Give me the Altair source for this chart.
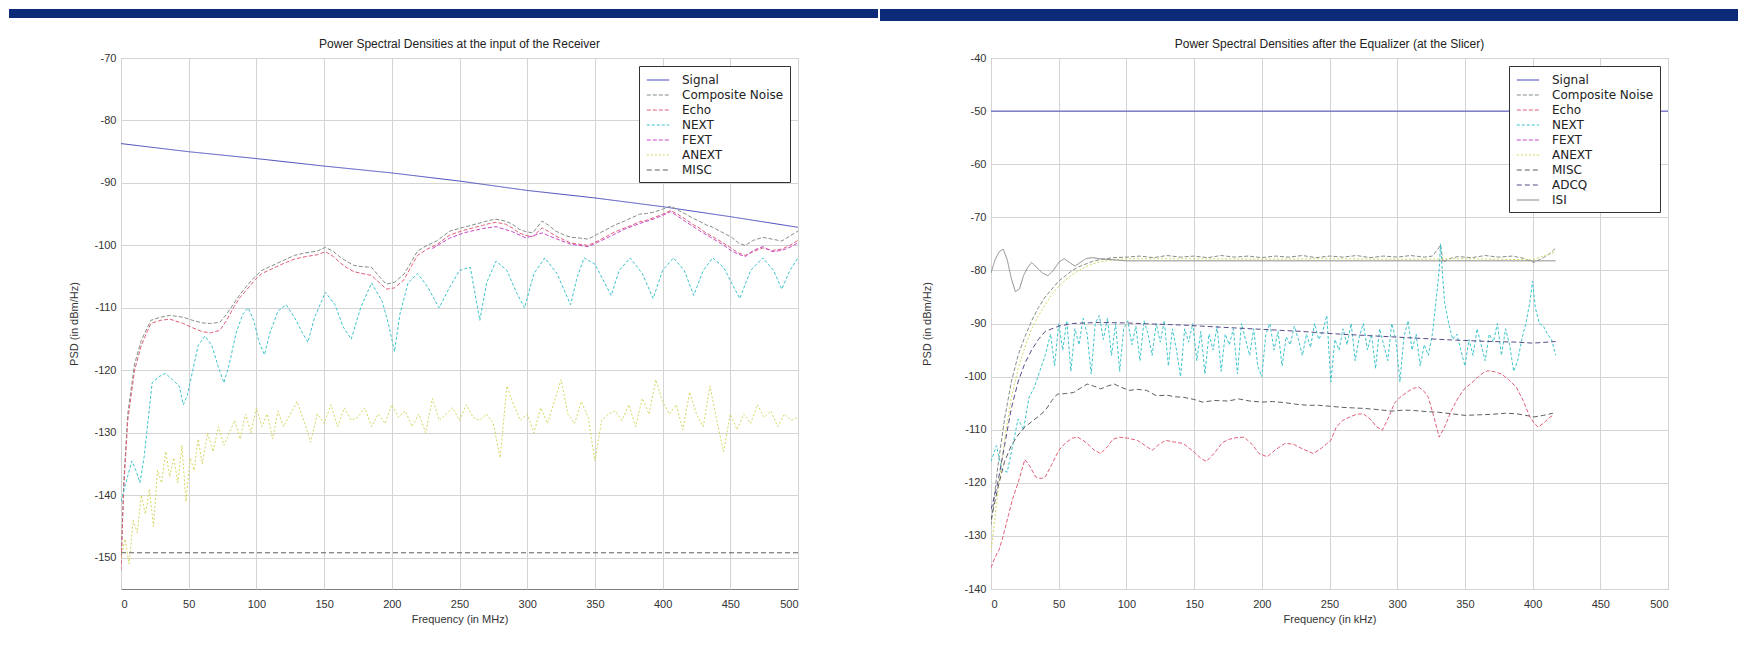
import altair as alt
import pandas as pd

# ---------------- series names / styles ----------------
SERIES_L = ["Signal", "Composite Noise", "Echo", "NEXT", "FEXT", "ANEXT", "MISC"]
SERIES_R = ["Signal", "Composite Noise", "Echo", "NEXT", "FEXT", "ANEXT", "MISC", "ADCQ", "ISI"]
COLORS = {"Signal": "#4b4bbd", "Composite Noise": "#848f84", "Echo": "#e0607a", "NEXT": "#3cc4cc",
          "FEXT": "#c84ac8", "ANEXT": "#d6d660", "MISC": "#5e5e5e", "ADCQ": "#5a4a8a", "ISI": "#8c8c8c"}
DASHES = {"Signal": [1, 0], "Composite Noise": [4, 2], "Echo": [4, 2], "NEXT": [3, 2], "FEXT": [4, 2],
          "ANEXT": [2, 2], "MISC": [5, 3], "ADCQ": [5, 3], "ISI": [1, 0]}

TITLE_L = "Power Spectral Densities at the input of the Receiver"
TITLE_R = "Power Spectral Densities after the Equalizer (at the Slicer)"
X_TICKS = [0, 50, 100, 150, 200, 250, 300, 350, 400, 450, 500]
Y_TICKS_L = [-150, -140, -130, -120, -110, -100, -90, -80, -70]
Y_TICKS_R = [-140, -130, -120, -110, -100, -90, -80, -70, -60, -50, -40]

# ---------------- left panel data (MHz, dBm/Hz) ----------------
L_SIGNAL = [(0, -83.7), (50, -85.0), (100, -86.1), (150, -87.3), (200, -88.4), (250, -89.7),
            (300, -91.2), (350, -92.4), (400, -93.8), (450, -95.4), (500, -97.1)]
L_COMPOSITE = [(0, -151), (2, -138), (5, -127), (10, -119), (15, -115.2), (22, -112), (29, -111.5),
               (36, -111.2), (46, -111.5), (53, -112), (60, -112.4), (66, -112.5), (73, -112.3),
               (78, -111), (83, -109.4), (88, -107.8), (94, -106.2), (99, -105), (104, -104),
               (109, -103.5), (114, -103), (121, -102.3), (128, -101.6), (136, -101.2), (145, -100.9),
               (151, -100.3), (157, -101), (162, -101.9), (167, -102.6), (172, -103.2), (178, -103.4),
               (185, -103.5), (190, -104.8), (196, -106.2), (202, -105.9), (209, -104.6), (214, -102.8),
               (219, -100.9), (226, -100), (233, -99.3), (243, -97.7), (253, -97.1), (260, -96.7),
               (267, -96.3), (272, -96), (277, -95.8), (284, -96.1), (289, -96.6), (294, -97.4),
               (299, -97.8), (304, -98), (311, -96.1), (316, -96.8), (321, -97.7), (327, -98.3),
               (332, -98.7), (338, -98.8), (345, -99), (352, -98.2), (359, -97.4), (365, -96.7),
               (372, -96.1), (378, -95.5), (383, -95), (388, -94.9), (393, -94.7), (400, -94.2),
               (406, -93.7), (411, -94.3), (417, -95), (422, -95.6), (427, -96.1), (432, -96.7),
               (437, -97.1), (444, -97.9), (451, -98.7), (456, -99.6), (461, -100), (467, -99.2),
               (474, -98.7), (481, -99), (488, -99.3), (494, -98.5), (500, -97.7)]
L_ECHO = [(0, -152), (2, -139), (5, -128), (10, -120), (15, -116), (22, -112.5), (29, -112),
          (36, -111.8), (46, -112.5), (53, -113.2), (60, -113.8), (66, -114), (73, -113.6), (78, -112),
          (83, -110), (88, -108.3), (94, -106.8), (99, -105.5), (104, -104.5), (109, -104), (114, -103.5),
          (121, -102.8), (128, -102.2), (136, -101.8), (145, -101.5), (151, -101), (157, -101.8),
          (162, -102.8), (167, -103.6), (172, -104.2), (178, -104.5), (185, -104.8), (190, -105.8),
          (196, -107), (202, -106.8), (209, -105.5), (214, -103.5), (219, -101.6), (226, -100.6),
          (233, -99.9), (243, -98.3), (253, -97.6), (260, -97.2), (267, -96.8), (272, -96.5),
          (277, -96.3), (284, -96.6), (289, -97.2), (294, -98), (299, -98.4), (304, -98.6), (311, -97.2),
          (316, -97.8), (321, -98.5), (327, -99.1), (332, -99.6), (338, -99.8), (345, -100), (352, -99.3),
          (359, -98.5), (365, -97.8), (372, -97.2), (378, -96.7), (383, -96.2), (388, -96), (393, -95.6),
          (400, -95), (406, -94.4), (411, -95), (417, -95.8), (422, -96.6), (427, -97.2), (432, -98),
          (437, -98.6), (444, -99.5), (451, -100.5), (456, -101.2), (461, -101.6), (467, -101),
          (474, -100.4), (481, -100.8), (488, -100.6), (494, -100), (500, -99.2)]
L_NEXT = [(0, -141), (3, -138.5), (8, -134.5), (11, -136), (14, -138), (17, -134), (20, -128), (23, -122),
          (28, -121), (33, -120.5), (38, -121.5), (43, -122.5), (46, -125.5), (49, -124), (53, -120),
          (57, -116), (62, -114.5), (67, -116), (72, -119.5), (76, -122), (80, -119), (85, -114),
          (90, -111), (94, -110), (98, -112), (102, -115.5), (106, -117.5), (110, -114), (116, -110.5),
          (122, -109.5), (128, -111.5), (134, -114), (138, -115.5), (143, -111.5), (151, -107.5),
          (158, -109.5), (164, -113), (170, -115), (177, -110), (185, -106), (193, -109), (198, -113),
          (202, -117), (206, -111), (212, -106), (219, -104.5), (226, -106.5), (235, -110), (242, -107),
          (250, -104), (258, -103.5), (265, -112), (270, -106), (277, -102.5), (285, -104), (292, -107.5),
          (298, -110), (305, -104.5), (313, -102), (322, -104.5), (332, -109.5), (337, -105), (342, -102),
          (350, -103), (356, -105.5), (362, -108), (368, -104), (376, -102), (385, -104.5), (393, -108.5),
          (400, -104), (408, -102), (416, -104), (423, -108), (430, -104), (437, -102), (445, -103.5),
          (451, -106), (457, -108.5), (465, -104), (474, -102), (482, -104), (488, -107), (494, -104),
          (500, -102)]
L_FEXT = [(230, -100.5), (243, -98.8), (253, -98), (267, -97.3), (277, -97), (289, -97.8), (299, -98.8),
          (311, -98), (321, -98.9), (332, -99.8), (345, -100.2), (359, -98.8), (372, -97.4), (383, -96.5),
          (393, -95.8), (400, -95.2), (406, -94.6), (411, -95.3), (417, -96.2), (427, -97.6), (437, -98.9),
          (444, -99.8), (451, -100.9), (456, -101.4), (461, -101.8), (467, -100.8), (474, -100.2),
          (481, -101), (488, -100.8), (494, -100.3), (500, -99.6)]
L_ANEXT = [(0, -150), (3, -147), (6, -151), (9, -144), (12, -146), (15, -140), (18, -143), (21, -139),
           (24, -145), (27, -136), (30, -138), (33, -133), (36, -137), (39, -134), (42, -138), (45, -132),
           (48, -141), (51, -134), (54, -136), (57, -131), (60, -135), (64, -130), (68, -133), (72, -129),
           (76, -132), (80, -130), (84, -128), (88, -131), (92, -127), (96, -130), (100, -126), (104, -129),
           (108, -127), (112, -131), (116, -126.5), (120, -129), (125, -127), (130, -125), (135, -128),
           (140, -131.5), (145, -127), (150, -128.5), (155, -125.5), (160, -129), (165, -126), (170, -128),
           (175, -127.5), (180, -126), (185, -129), (190, -127), (195, -128.5), (200, -125.5), (205, -127.5),
           (210, -126.5), (215, -129), (220, -127), (225, -130), (230, -124.5), (235, -128), (240, -127),
           (245, -126), (250, -128), (255, -125.5), (260, -127.5), (265, -128), (270, -127), (275, -128.5),
           (280, -134), (285, -122.5), (290, -125.5), (295, -128), (300, -127), (305, -130), (310, -126),
           (315, -128.5), (320, -125), (325, -121.5), (330, -127), (335, -128.5), (340, -125), (345, -127.5),
           (350, -134.5), (355, -128), (360, -127), (365, -126.5), (370, -128), (375, -125.5), (380, -129),
           (385, -124.5), (390, -127), (395, -121.5), (400, -125), (405, -127), (410, -125.5), (415, -129.5),
           (420, -123.5), (425, -127), (430, -129), (435, -122.5), (440, -128), (445, -133), (450, -127),
           (455, -129.5), (460, -127), (465, -128.5), (470, -125.5), (475, -127.5), (480, -126.5),
           (485, -129), (490, -127), (495, -128), (500, -127.5)]
L_MISC = [(0, -149.2), (500, -149.2)]

# ---------------- right panel data (kHz, dBm/Hz) ----------------
R_SIGNAL = [(0, -50), (500, -50)]
R_COMPOSITE = [(0, -128), (5, -117), (10, -108), (15, -101), (20, -96), (25, -92.5), (30, -89.5),
               (35, -87), (40, -85), (45, -83.5), (50, -82), (55, -81), (60, -80), (65, -79.3), (70, -78.8),
               (75, -78.3), (80, -78), (90, -77.6), (100, -77.5), (110, -77.3), (120, -77.6), (130, -77.2),
               (140, -77.5), (150, -77.3), (160, -77.6), (170, -77.2), (180, -77.5), (190, -77.3),
               (200, -77.6), (210, -77.3), (220, -77.5), (230, -77.2), (240, -77.6), (250, -77.3),
               (260, -77.5), (270, -77.2), (280, -77.6), (290, -77.3), (300, -77.5), (310, -77.2),
               (320, -77.5), (326, -77.3), (330, -76), (332, -75.2), (334, -78.5), (338, -77.8), (345, -77.4),
               (355, -77.6), (365, -77.2), (375, -77.5), (385, -77.3), (393, -77.7), (401, -78.5),
               (408, -77.6), (413, -76.8), (417, -75.8)]
R_ANEXT = [(0, -133), (5, -122), (10, -112), (15, -104), (20, -98.5), (25, -94.5), (30, -91), (35, -88.5),
           (40, -86.5), (45, -84.5), (50, -83), (55, -81.8), (60, -80.8), (65, -80), (70, -79.3),
           (75, -78.8), (80, -78.4), (90, -78), (100, -77.8), (150, -77.8), (200, -77.9), (250, -77.8),
           (300, -77.9), (350, -77.8), (400, -78), (417, -76.5)]
R_ISI = [(0, -80.5), (3, -78), (6, -76.5), (9, -76), (12, -78), (15, -81.5), (18, -84), (21, -83.5),
         (24, -81), (27, -79.5), (30, -78.5), (34, -79.5), (38, -80.5), (42, -81), (46, -80), (50, -78.5),
         (54, -77.8), (58, -78.5), (62, -79.2), (66, -78.5), (70, -77.8), (75, -77.6), (80, -77.8),
         (100, -78.2), (200, -78.2), (300, -78.2), (417, -78.2)]
R_NEXT = [(0, -116), (4, -113), (8, -117.5), (12, -118), (16, -113), (20, -108), (24, -110), (28, -104),
          (32, -102), (36, -99), (40, -96), (44, -92), (47, -98), (50, -90), (53, -95), (56, -89.5),
          (59, -99), (62, -91), (65, -94), (68, -89), (71, -92), (74, -99.5), (77, -90), (80, -88.5),
          (83, -93), (86, -89), (89, -96), (92, -90), (95, -99), (98, -91), (101, -89.5), (104, -94),
          (107, -90.5), (110, -97), (113, -89.5), (116, -92), (119, -96), (122, -90), (125, -93.5),
          (128, -89.5), (131, -98), (134, -91), (137, -95), (140, -100), (143, -91), (146, -93.5),
          (149, -90), (152, -97), (155, -91.5), (158, -99.5), (161, -92), (164, -95), (167, -90.5),
          (170, -99), (173, -92), (176, -94), (179, -91), (182, -99.5), (185, -90), (188, -93), (191, -96),
          (194, -91), (197, -98), (200, -100), (203, -92), (206, -90), (209, -95), (212, -91.5), (215, -98),
          (218, -92.5), (221, -94), (224, -90.5), (227, -93), (230, -96), (233, -92), (236, -94.5),
          (239, -90), (242, -93), (245, -91.5), (248, -88.5), (251, -101), (254, -93), (257, -95),
          (260, -91), (263, -94), (266, -90), (269, -97), (272, -92.5), (275, -90), (278, -95), (281, -92),
          (284, -98.5), (287, -91), (290, -94), (293, -97), (296, -90), (299, -93), (302, -101),
          (305, -92.5), (308, -89.5), (311, -95), (314, -92), (317, -98), (320, -94), (323, -96),
          (326, -92), (329, -85), (331, -80), (332, -75), (333, -79), (335, -86), (338, -90), (341, -93),
          (344, -92), (347, -95), (350, -98), (353, -93), (356, -96), (359, -91), (362, -94), (365, -97),
          (368, -92), (371, -93.5), (374, -90), (377, -96), (380, -91), (383, -94), (386, -99), (389, -97),
          (392, -93), (395, -90), (398, -86), (400, -82), (402, -87), (405, -90), (408, -90.5), (411, -92),
          (414, -93), (417, -96)]
R_MISC = [(0, -127), (5, -121), (10, -116), (15, -113), (20, -111), (25, -109.5), (30, -108.5),
          (35, -107.5), (40, -106.4), (45, -104.5), (49, -103.3), (55, -103.2), (61, -103), (66, -102.2),
          (71, -101.4), (76, -101.8), (81, -102.3), (86, -101.8), (91, -101.4), (96, -102), (102, -102.6),
          (108, -102.4), (115, -102.6), (122, -103.6), (130, -103.5), (136, -103.8), (142, -103.9),
          (150, -104.3), (156, -104.8), (165, -104.5), (175, -104.6), (183, -104.2), (191, -104.6),
          (200, -104.8), (208, -104.7), (217, -104.9), (225, -105.2), (234, -105.4), (242, -105.4),
          (251, -105.6), (260, -105.8), (268, -105.9), (276, -106), (285, -106.2), (296, -106.5),
          (305, -106.3), (313, -106.4), (322, -106.6), (330, -106.7), (340, -107), (350, -107.3),
          (360, -107.2), (370, -107.1), (380, -106.9), (388, -107), (395, -107.3), (401, -107.6),
          (408, -107.3), (415, -106.9)]
R_ADCQ = [(0, -125), (5, -120), (10, -113), (15, -106), (20, -101), (25, -97.5), (30, -95), (35, -93),
          (40, -91.5), (50, -90.5), (60, -90), (80, -89.8), (100, -89.9), (120, -90.1), (142, -90.3),
          (170, -90.7), (200, -91.1), (230, -91.5), (251, -91.9), (280, -92.3), (310, -92.7), (340, -93.1),
          (370, -93.4), (388, -93.5), (400, -93.7), (417, -93.4)]
R_ECHO = [(0, -136), (3, -134), (6, -132.6), (9, -130), (13, -126), (16, -123), (20, -120), (25, -115.6),
          (29, -117), (33, -118.9), (37, -119.2), (40, -118.9), (45, -116.5), (50, -113.9), (55, -112.5),
          (60, -111.6), (64, -111.4), (68, -112), (71, -112.6), (76, -113.8), (81, -114.5), (86, -113.2),
          (90, -111.8), (95, -111.4), (101, -111.6), (108, -112), (114, -113), (119, -113.9), (124, -112.8),
          (129, -112), (135, -112.3), (142, -112.6), (150, -114.2), (155, -115.4), (159, -116),
          (165, -114.4), (171, -112.4), (176, -111.8), (181, -111.5), (187, -111.4), (193, -112.8),
          (198, -114.5), (204, -115.1), (210, -113.8), (217, -112.6), (223, -112.7), (230, -113.6),
          (238, -114.5), (244, -113.5), (251, -112), (255, -109.5), (260, -108.2), (265, -107.6),
          (270, -107.1), (275, -107), (280, -108), (285, -109.5), (289, -110.1), (294, -107.5), (298, -105),
          (302, -103.9), (308, -102.8), (312, -102.2), (316, -102), (320, -102.8), (323, -103.9),
          (327, -107.5), (331, -111.4), (335, -109.5), (340, -106.4), (345, -104), (350, -102.2),
          (354, -101.4), (360, -100), (364, -99.2), (367, -98.9), (372, -99.1), (377, -99.5), (382, -100.5),
          (388, -102), (393, -104.5), (398, -107.6), (401, -108.7), (404, -109.5), (408, -108.8),
          (412, -107.8), (415, -107.3)]

LEFT = {"Signal": L_SIGNAL, "Composite Noise": L_COMPOSITE, "Echo": L_ECHO, "NEXT": L_NEXT,
        "FEXT": L_FEXT, "ANEXT": L_ANEXT, "MISC": L_MISC}
RIGHT = {"Signal": R_SIGNAL, "Composite Noise": R_COMPOSITE, "Echo": R_ECHO, "NEXT": R_NEXT,
         "ANEXT": R_ANEXT, "MISC": R_MISC, "ADCQ": R_ADCQ, "ISI": R_ISI}


def to_frame(d):
    rows = []
    for name, pts in d.items():
        for i, (x, y) in enumerate(pts):
            rows.append({"series": name, "x": x, "y": y, "i": i})
    return pd.DataFrame(rows)


FONT = "Liberation Sans"
BLUE = "#0c2a78"
W, H = 677, 531


def panel(data, names, title, xtitle, ydom, yticks, band_x, band_x2, band_y2, ytitle_pad):
    legend = alt.Legend(title=None, orient="top-right", offset=8, fillColor="white", strokeColor="#333333",
                        padding=6, labelFontSize=12, labelFont="DejaVu Sans", labelColor="#222222",
                        symbolType="M-1.6,0H1.6", symbolSize=196, symbolStrokeWidth=1.2, symbolOffset=5,
                        rowPadding=1, labelOffset=16, labelLimit=200)
    lines = alt.Chart(to_frame(data)).mark_line(strokeWidth=1, clip=True).encode(
        x=alt.X("x:Q", scale=alt.Scale(domain=[0, 500], nice=False),
                axis=alt.Axis(values=X_TICKS, title=xtitle)),
        y=alt.Y("y:Q", scale=alt.Scale(domain=ydom, nice=False),
                axis=alt.Axis(values=yticks, title="PSD (in dBm/Hz)", labelExpr="'' + datum.value",
                              titlePadding=ytitle_pad)),
        color=alt.Color("series:N", scale=alt.Scale(domain=names, range=[COLORS[n] for n in names]),
                        legend=legend),
        strokeDash=alt.StrokeDash("series:N", scale=alt.Scale(domain=names, range=[DASHES[n] for n in names]),
                                  legend=legend),
        order="i:Q",
    )
    # dark-blue slide band above the panel
    band = alt.Chart(pd.DataFrame({"k": [0]})).mark_rect(color=BLUE).encode(
        x=alt.value(band_x), x2=alt.value(band_x2), y=alt.value(-49), y2=alt.value(band_y2))
    # panel title, drawn as text so that it sits below the band
    head = alt.Chart(pd.DataFrame({"t": [title]})).mark_text(
        font=FONT, fontSize=12, color="#222222", align="center", baseline="middle").encode(
        x=alt.value(W / 2), y=alt.value(-14), text="t:N")
    return alt.layer(band, head, lines).properties(width=W, height=H).resolve_scale(
        color="independent", strokeDash="independent")


left = panel(LEFT, SERIES_L, TITLE_L, "Frequency (in MHz)", [-155, -70], Y_TICKS_L, -112, 757, -40, 14)
right = panel(RIGHT, SERIES_R, TITLE_R, "Frequency (in kHz)", [-140, -40], Y_TICKS_R, -111, 747, -37, 31)

chart = alt.hconcat(left, right, spacing=0).resolve_scale(
    color="independent", strokeDash="independent").resolve_legend(
    color="independent", strokeDash="independent").properties(padding=0).configure_view(
    stroke="#808080", strokeWidth=1).configure_axis(
    grid=True, gridColor="#d4d4d4", gridWidth=1, domain=False, ticks=False,
    labelFont=FONT, labelFontSize=11, labelColor="#333333", labelPadding=7,
    titleFont=FONT, titleFontSize=11, titleFontWeight="normal", titleColor="#333333",
).configure_axisX(titlePadding=4, labelPadding=9).configure_axisY(labelPadding=5)

chart.save("out.html", embed_options={"renderer": "svg", "actions": False})
